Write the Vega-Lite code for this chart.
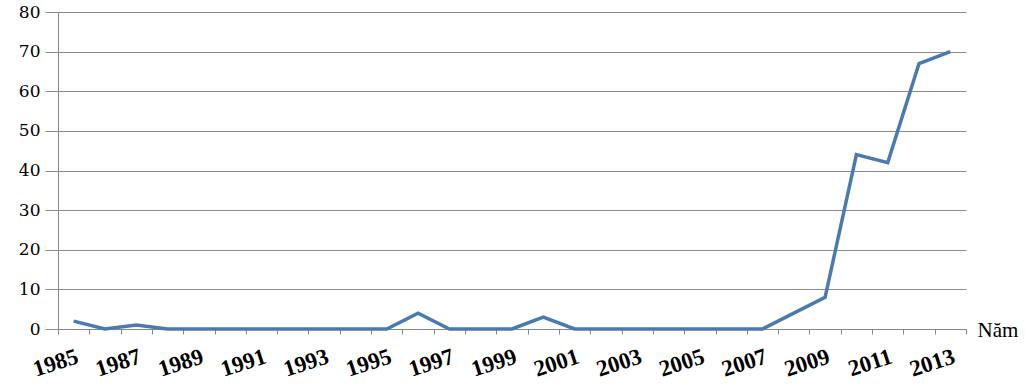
{
  "$schema": "https://vega.github.io/schema/vega-lite/v6.json",
  "autosize": "none",
  "width": 908,
  "height": 317,
  "padding": {"left": 58, "top": 12, "right": 59, "bottom": 56},
  "background": "white",
  "config": {"view": {"stroke": null}},
  "data": {"values": [
    {"year": 1985, "value": 2}, {"year": 1986, "value": 0}, {"year": 1987, "value": 1},
    {"year": 1988, "value": 0}, {"year": 1989, "value": 0}, {"year": 1990, "value": 0},
    {"year": 1991, "value": 0}, {"year": 1992, "value": 0}, {"year": 1993, "value": 0},
    {"year": 1994, "value": 0}, {"year": 1995, "value": 0}, {"year": 1996, "value": 4},
    {"year": 1997, "value": 0}, {"year": 1998, "value": 0}, {"year": 1999, "value": 0},
    {"year": 2000, "value": 3}, {"year": 2001, "value": 0}, {"year": 2002, "value": 0},
    {"year": 2003, "value": 0}, {"year": 2004, "value": 0}, {"year": 2005, "value": 0},
    {"year": 2006, "value": 0}, {"year": 2007, "value": 0}, {"year": 2008, "value": 4},
    {"year": 2009, "value": 8}, {"year": 2010, "value": 44}, {"year": 2011, "value": 42},
    {"year": 2012, "value": 67}, {"year": 2013, "value": 70}
  ]},
  "layer": [
    {
      "mark": {"type": "line", "color": "#4a7ab2", "strokeWidth": 3.5, "strokeJoin": "miter"},
      "encoding": {
        "x": {
          "field": "year", "type": "ordinal",
          "scale": {"type": "band", "paddingInner": 0, "paddingOuter": 0},
          "axis": {
            "title": "Năm",
            "titleFont": "Liberation Serif",
            "titleFontSize": 21,
            "titleFontWeight": "normal",
            "titleColor": "black",
            "titleAlign": "left",
            "titleBaseline": "middle",
            "titleX": 919,
            "titleY": 1,
            "tickBand": "extent",
            "domainColor": "#888888",
            "tickColor": "#888888",
            "tickSize": 5,
            "labelAngle": -18,
            "labelAlign": "right",
            "labelBaseline": "top",
            "labelPadding": 11,
            "labelFont": "Liberation Serif",
            "labelFontWeight": "bold",
            "labelFontSize": 23,
            "labelColor": "black",
            "labelOverlap": false,
            "labelExpr": "toNumber(datum.value) % 2 == 1 ? datum.label : ''",
            "grid": false
          }
        },
        "y": {
          "field": "value", "type": "quantitative",
          "scale": {"domain": [0, 80]},
          "axis": {
            "title": null,
            "values": [0, 10, 20, 30, 40, 50, 60, 70, 80],
            "gridColor": "#8c8c8c",
            "gridWidth": 1,
            "domainColor": "#888888",
            "tickColor": "#8c8c8c",
            "tickSize": 13,
            "labelFont": "DejaVu Serif",
            "labelFontSize": 17,
            "labelColor": "black",
            "labelPadding": 5
          }
        }
      }
    }
  ]
}
